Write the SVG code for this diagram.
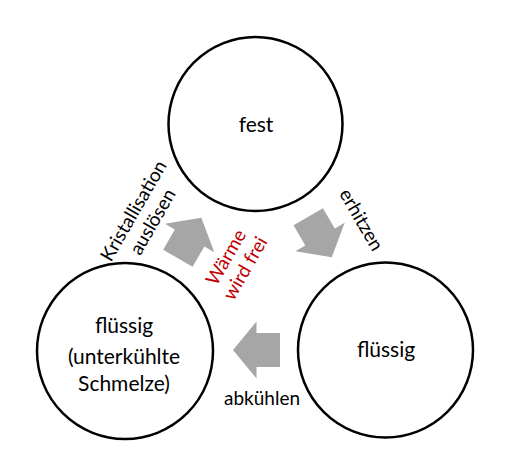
<svg xmlns="http://www.w3.org/2000/svg" width="511" height="476" viewBox="0 0 511 476">
<defs>
<style>
.node{fill:#ffffff;stroke:#000000;stroke-width:2.5}
.t{font-family:Lato,"Open Sans","Liberation Sans",sans-serif;fill:#000000;text-anchor:middle}
.big{font-size:21px}
.lbl{font-size:19px}
.red{fill:#c00000}
.arr{fill:#a6a6a6;stroke:none}
</style>
<polygon id="blk" class="arr" points="-23.5,-17 0,-17 0,-28.5 23.5,0 0,28.5 0,17 -23.5,17"/>
</defs>
<rect width="511" height="476" fill="#ffffff"/>
<g id="connectors">
<use href="#blk" transform="translate(320,237) rotate(60)"/>
<use href="#blk" transform="translate(256.5,350) rotate(180)"/>
<use href="#blk" transform="translate(189.6,238) rotate(-60)"/>
<text class="t lbl" transform="translate(361,220) rotate(60)" x="0" y="6">erhitzen</text>
<text class="t lbl" x="262" y="405">abkühlen</text>
<g transform="translate(143.5,216.5) rotate(-60)">
<text class="t lbl" x="0" y="-5">Kristallisation</text>
<text class="t lbl" x="0" y="17">auslösen</text>
</g>
<g transform="translate(236,263) rotate(-60)">
<text class="t lbl red" x="0" y="-5">Wärme</text>
<text class="t lbl red" x="0" y="17">wird frei</text>
</g>
</g>
<g id="fest">
<circle class="node" cx="255.5" cy="124" r="87"/>
<text class="t big" x="256" y="132">fest</text>
</g>
<g id="fluessig-rechts">
<circle class="node" cx="385.5" cy="350" r="87.5"/>
<text class="t big" x="386" y="357">flüssig</text>
</g>
<g id="fluessig-links">
<circle class="node" cx="125" cy="351" r="88"/>
<text class="t big" x="124" y="333">flüssig</text>
<text class="t big" x="124" y="364">(unterkühlte</text>
<text class="t big" x="124" y="391">Schmelze)</text>
</g>
</svg>
